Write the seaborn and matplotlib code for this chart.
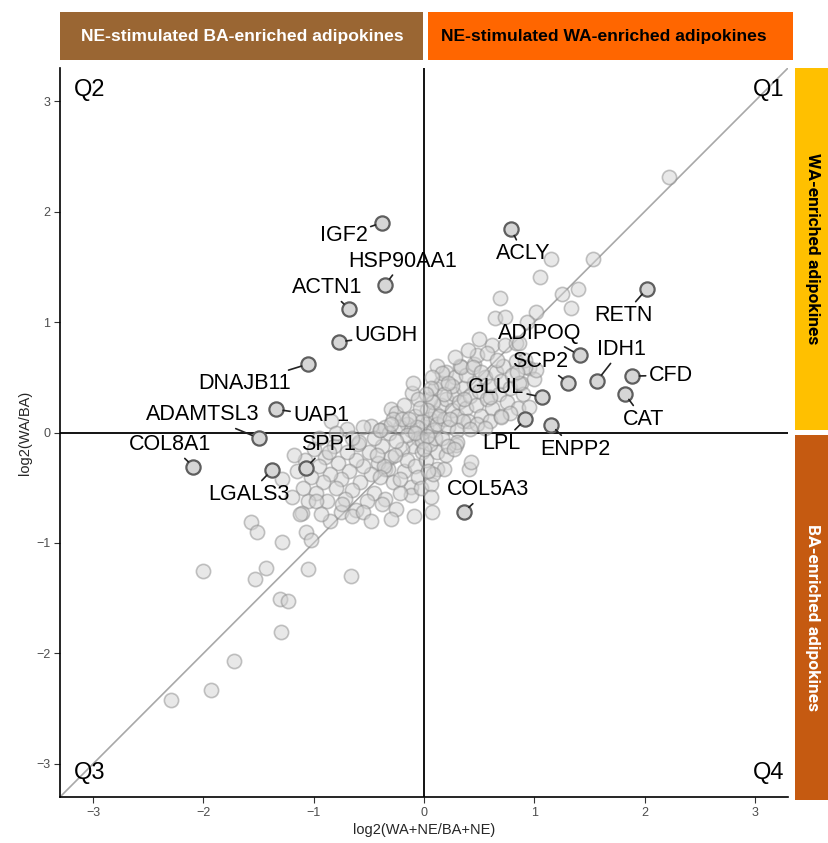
import matplotlib
matplotlib.use("Agg")
import matplotlib.pyplot as plt
import seaborn as sns
import pandas as pd
from matplotlib.patches import Rectangle

# ---------------- data ----------------
# background adipokines (grey points), grouped by quadrant
q1_x = [0.02, 0.05, 0.08, 0.10, 0.12, 0.15, 0.18, 0.20, 0.22, 0.25, 0.27, 0.30, 0.32, 0.35, 0.38, 0.40,
        0.42, 0.45, 0.47, 0.50, 0.52, 0.55, 0.57, 0.60, 0.62, 0.65, 0.68, 0.70, 0.72, 0.75, 0.78, 0.80,
        0.83, 0.85, 0.88, 0.90, 0.95, 1.00, 0.05, 0.10, 0.15, 0.20, 0.28, 0.33, 0.38, 0.45, 0.12, 0.08,
        0.03, 0.25, 0.18, 0.35, 0.48, 0.60, 0.70, 0.30, 0.42, 0.55, 2.22, 1.15, 1.53, 1.05, 1.40, 1.25,
        0.69, 1.33, 1.02, 0.64, 0.73, 0.93, 0.62, 0.73, 0.83, 0.48, 0.57, 0.66, 0.92, 1.02, 0.34, 0.44,
        0.16, 0.07, 0.92, 0.50, 0.40, 0.28, 0.22, 0.06, 0.14, 0.24, 0.36, 0.02, 0.52, 0.60, 0.86, 0.86,
        0.78, 0.95, 0.70, 0.84]
q1_y = [0.05, 0.12, 0.02, 0.18, 0.08, 0.25, 0.12, 0.30, 0.05, 0.20, 0.35, 0.15, 0.28, 0.40, 0.22, 0.10,
        0.33, 0.45, 0.25, 0.38, 0.15, 0.50, 0.30, 0.42, 0.22, 0.55, 0.35, 0.47, 0.60, 0.28, 0.40, 0.52,
        0.65, 0.22, 0.45, 0.35, 0.58, 0.48, 0.30, 0.40, 0.45, 0.55, 0.50, 0.60, 0.52, 0.62, 0.60, 0.28,
        0.20, 0.42, 0.35, 0.10, 0.08, 0.10, 0.15, 0.02, 0.03, 0.04, 2.31, 1.57, 1.57, 1.41, 1.30, 1.25,
        1.22, 1.13, 1.09, 1.04, 1.05, 1.00, 0.79, 0.79, 0.81, 0.70, 0.72, 0.66, 0.66, 0.57, 0.59, 0.59,
        0.54, 0.50, 0.59, 0.85, 0.75, 0.68, 0.45, 0.40, 0.15, 0.12, 0.30, 0.35, 0.55, 0.32, 0.81, 0.45,
        0.18, 0.23, 0.14, 0.55]
q2_x = [-0.30, -0.25, -0.11, -0.18, -0.08, -0.15, -0.22, -0.05, -0.02, -0.35, -0.12, -0.28, -0.04,
        -0.40, -0.84, -0.48, -0.10, -0.20, -0.06, -0.32, -0.14]
q2_y = [0.21, 0.18, 0.36, 0.25, 0.15, 0.08, 0.05, 0.30, 0.10, 0.05, 0.02, 0.12, 0.22,
        0.02, 0.10, 0.06, 0.45, 0.12, 0.05, 0.00, 0.12]
q3_x = [-0.05, -0.10, -0.15, -0.20, -0.25, -0.30, -0.35, -0.38, -0.42, -0.45, -0.48, -0.50, -0.55,
        -0.58, -0.60, -0.62, -0.65, -0.68, -0.70, -0.72, -0.75, -0.78, -0.80, -0.82, -0.85, -0.88,
        -0.90, -0.92, -0.95, -0.98, -1.00, -1.02, -1.05, -1.08, -1.10, -1.15, -1.18, -1.20, -0.12,
        -0.12, -0.25, -0.09, -0.59, -0.33, -0.36, -0.40, -0.28, -0.18, -0.22, -0.45, -0.52, -0.35,
        -0.15, -0.08, -0.02, -0.05, -0.62, -0.75, -0.65, -0.74, -0.38, -0.98, -1.11, -1.07, -1.02,
        -0.55, -0.48, -0.30, -0.85, -0.40, -0.55, -0.70, -0.30, -0.65, -0.80, -0.95, -0.02, -0.08,
        -0.03, -1.29, -1.12, -0.93, -2.00, -1.57, -1.51, -1.29, -1.43, -1.53, -1.05, -0.66, -1.31,
        -1.23, -1.30, -1.72, -1.93, -2.29, -0.26, -0.43, -0.86, -0.22]
q3_y = [-0.05, -0.12, -0.02, -0.15, -0.08, -0.22, -0.33, -0.12, -0.28, -0.05, -0.38, -0.18, -0.30,
        -0.45, -0.10, -0.25, -0.52, -0.35, -0.18, -0.60, -0.42, -0.28, -0.50, -0.12, -0.38, -0.62,
        -0.22, -0.45, -0.30, -0.55, -0.15, -0.40, -0.62, -0.25, -0.50, -0.35, -0.20, -0.58, -0.49,
        -0.57, -0.69, -0.76, -0.09, -0.33, -0.30, -0.40, -0.45, -0.35, -0.55, -0.55, -0.62, -0.60,
        -0.25, -0.30, -0.18, -0.40, -0.70, -0.72, -0.76, -0.65, -0.65, -0.62, -0.73, -0.90, -0.97,
        -0.72, -0.80, -0.78, -0.80, 0.02, 0.05, 0.03, 0.08, -0.05, 0.00, -0.05, -0.08, 0.00,
        -0.50, -0.42, -0.74, -0.74, -1.25, -0.81, -0.90, -0.99, -1.23, -1.33, -1.24, -1.30, -1.51,
        -1.53, -1.81, -2.07, -2.33, -2.42, -0.20, -0.20, -0.18, -0.42]
q4_x = [0.06, 0.06, 0.12, 0.18, 0.29, 0.12, 0.20, 0.05, 0.10, 0.30, 0.41, 0.07, 0.16, 0.02, 0.08,
        0.22, 0.03, 0.00, 0.04, 0.43, 0.27]
q4_y = [-0.47, -0.58, -0.33, -0.33, -0.11, -0.18, -0.20, -0.10, -0.05, -0.09, -0.33, -0.72, -0.05,
        -0.25, -0.38, -0.12, -0.03, -0.15, -0.35, -0.27, -0.15]

# highlighted adipokines
genes = ["IGF2", "HSP90AA1", "ACTN1", "UGDH", "DNAJB11", "UAP1", "ADAMTSL3", "COL8A1", "SPP1",
         "LGALS3", "ACLY", "RETN", "ADIPOQ", "SCP2", "IDH1", "CFD", "CAT", "GLUL", "LPL", "ENPP2",
         "COL5A3"]
gene_x = [-0.38, -0.35, -0.68, -0.77, -1.05, -1.34, -1.50, -2.09, -1.07, -1.38, 0.79, 2.02, 1.41,
          1.31, 1.57, 1.89, 1.82, 1.07, 0.92, 1.15, 0.36]
gene_y = [1.90, 1.34, 1.12, 0.82, 0.62, 0.21, -0.05, -0.31, -0.32, -0.34, 1.84, 1.30, 0.70,
          0.45, 0.47, 0.51, 0.35, 0.32, 0.12, 0.07, -0.72]

# label anchor positions (layout, not data)
label_x = [-0.73, -0.19, -0.88, -0.34, -1.63, -0.93, -2.01, -2.30, -0.87, -1.59, 0.90, 1.81, 1.05,
           1.05, 1.79, 2.24, 1.99, 0.65, 0.70, 1.37, 0.58]
label_y = [1.78, 1.55, 1.31, 0.88, 0.44, 0.15, 0.16, -0.11, -0.11, -0.56, 1.62, 1.06, 0.90,
           0.64, 0.75, 0.52, 0.12, 0.41, -0.10, -0.15, -0.52]

ticks = [-3, -2, -1, 0, 1, 2, 3]

# ---------------- plot ----------------
sns.set_theme(style="white")
plt.rcParams["font.family"] = ["Liberation Sans", "DejaVu Sans"]

fig = plt.figure(figsize=(8.29, 8.43), dpi=100)
ax = fig.add_axes([0.0724, 0.0546, 0.8781, 0.8647])

bg = pd.DataFrame({"x": q1_x + q2_x + q3_x + q4_x, "y": q1_y + q2_y + q3_y + q4_y})
hl = pd.DataFrame({"x": gene_x, "y": gene_y, "gene": genes})

ax.axline((0, 0), slope=1, color="#A8A8A8", lw=1.2, zorder=1)
ax.axhline(0, color="black", lw=1.3, zorder=2)
ax.axvline(0, color="black", lw=1.3, zorder=2)

sns.scatterplot(data=bg, x="x", y="y", s=105, color="#D2D2D2", edgecolor="#8A8A8A",
                linewidth=1.2, alpha=0.5, ax=ax, zorder=3, legend=False)
sns.scatterplot(data=hl, x="x", y="y", s=105, color="#D6D6D6", edgecolor="#5E5E5E",
                linewidth=1.6, ax=ax, zorder=4, legend=False)

for g, gx, gy, lx, ly in zip(genes, gene_x, gene_y, label_x, label_y):
    ax.annotate(g, xy=(gx, gy), xytext=(lx, ly), ha="center", va="center", fontsize=15.5,
                color="black", zorder=5,
                arrowprops=dict(arrowstyle="-", color="#222222", lw=1.2, shrinkA=0, shrinkB=5))

for txt, qx, qy, ha in [("Q2", -3.17, 3.1, "left"), ("Q1", 3.27, 3.1, "right"),
                        ("Q3", -3.17, -3.08, "left"), ("Q4", 3.27, -3.08, "right")]:
    ax.text(qx, qy, txt, fontsize=17, ha=ha, va="center", color="black")

ax.set_xlim(-3.3, 3.3)
ax.set_ylim(-3.3, 3.3)
ax.set_xticks(ticks)
ax.set_yticks(ticks)
ax.set_xticklabels([f"{t}".replace("-", "\u2212") for t in ticks])
ax.set_yticklabels([f"{t}".replace("-", "\u2212") for t in ticks])
ax.tick_params(axis="both", which="both", bottom=True, left=True, length=4, width=0.8,
               color="#333333", labelsize=9, labelcolor="#4D4D4D", pad=3)
for side in ["top", "right"]:
    ax.spines[side].set_visible(False)
for side in ["left", "bottom"]:
    ax.spines[side].set_color("black")
    ax.spines[side].set_linewidth(1.2)
ax.set_xlabel("log2(WA+NE/BA+NE)", fontsize=10.5, labelpad=3)
ax.set_ylabel("log2(WA/BA)", fontsize=10.5, labelpad=3)
ax.grid(False)

# ---------------- banners ----------------
W, H = 829, 843

def px_rect(x0, y0, x1, y1, color):
    fig.add_artist(Rectangle((x0 / W, 1 - y1 / H), (x1 - x0) / W, (y1 - y0) / H,
                             transform=fig.transFigure, facecolor=color, edgecolor="none"))

px_rect(60, 12, 423, 60, "#9A6633")
px_rect(428, 12, 793, 60, "#FF6600")
px_rect(795, 68, 829, 430, "#FFC000")
px_rect(795, 435, 829, 800, "#C55A11")

fig.text(242 / W, 1 - 36 / H, "NE-stimulated BA-enriched adipokines", family=["Liberation Sans", "DejaVu Sans"],
         fontweight="bold", fontsize=12.6, color="white", ha="center", va="center")
fig.text(604 / W, 1 - 36 / H, "NE-stimulated WA-enriched adipokines", family=["Liberation Sans", "DejaVu Sans"],
         fontweight="bold", fontsize=12.6, color="black", ha="center", va="center")
fig.text(813 / W, 1 - 249 / H, "WA-enriched adipokines", family=["Roboto", "DejaVu Sans"],
         fontweight="bold", fontsize=12.5, color="black", ha="center", va="center", rotation=-90)
fig.text(813 / W, 1 - 617 / H, "BA-enriched adipokines", family=["Roboto", "DejaVu Sans"],
         fontweight="bold", fontsize=12.5, color="white", ha="center", va="center", rotation=-90)

fig.savefig("out.png", dpi=100)
